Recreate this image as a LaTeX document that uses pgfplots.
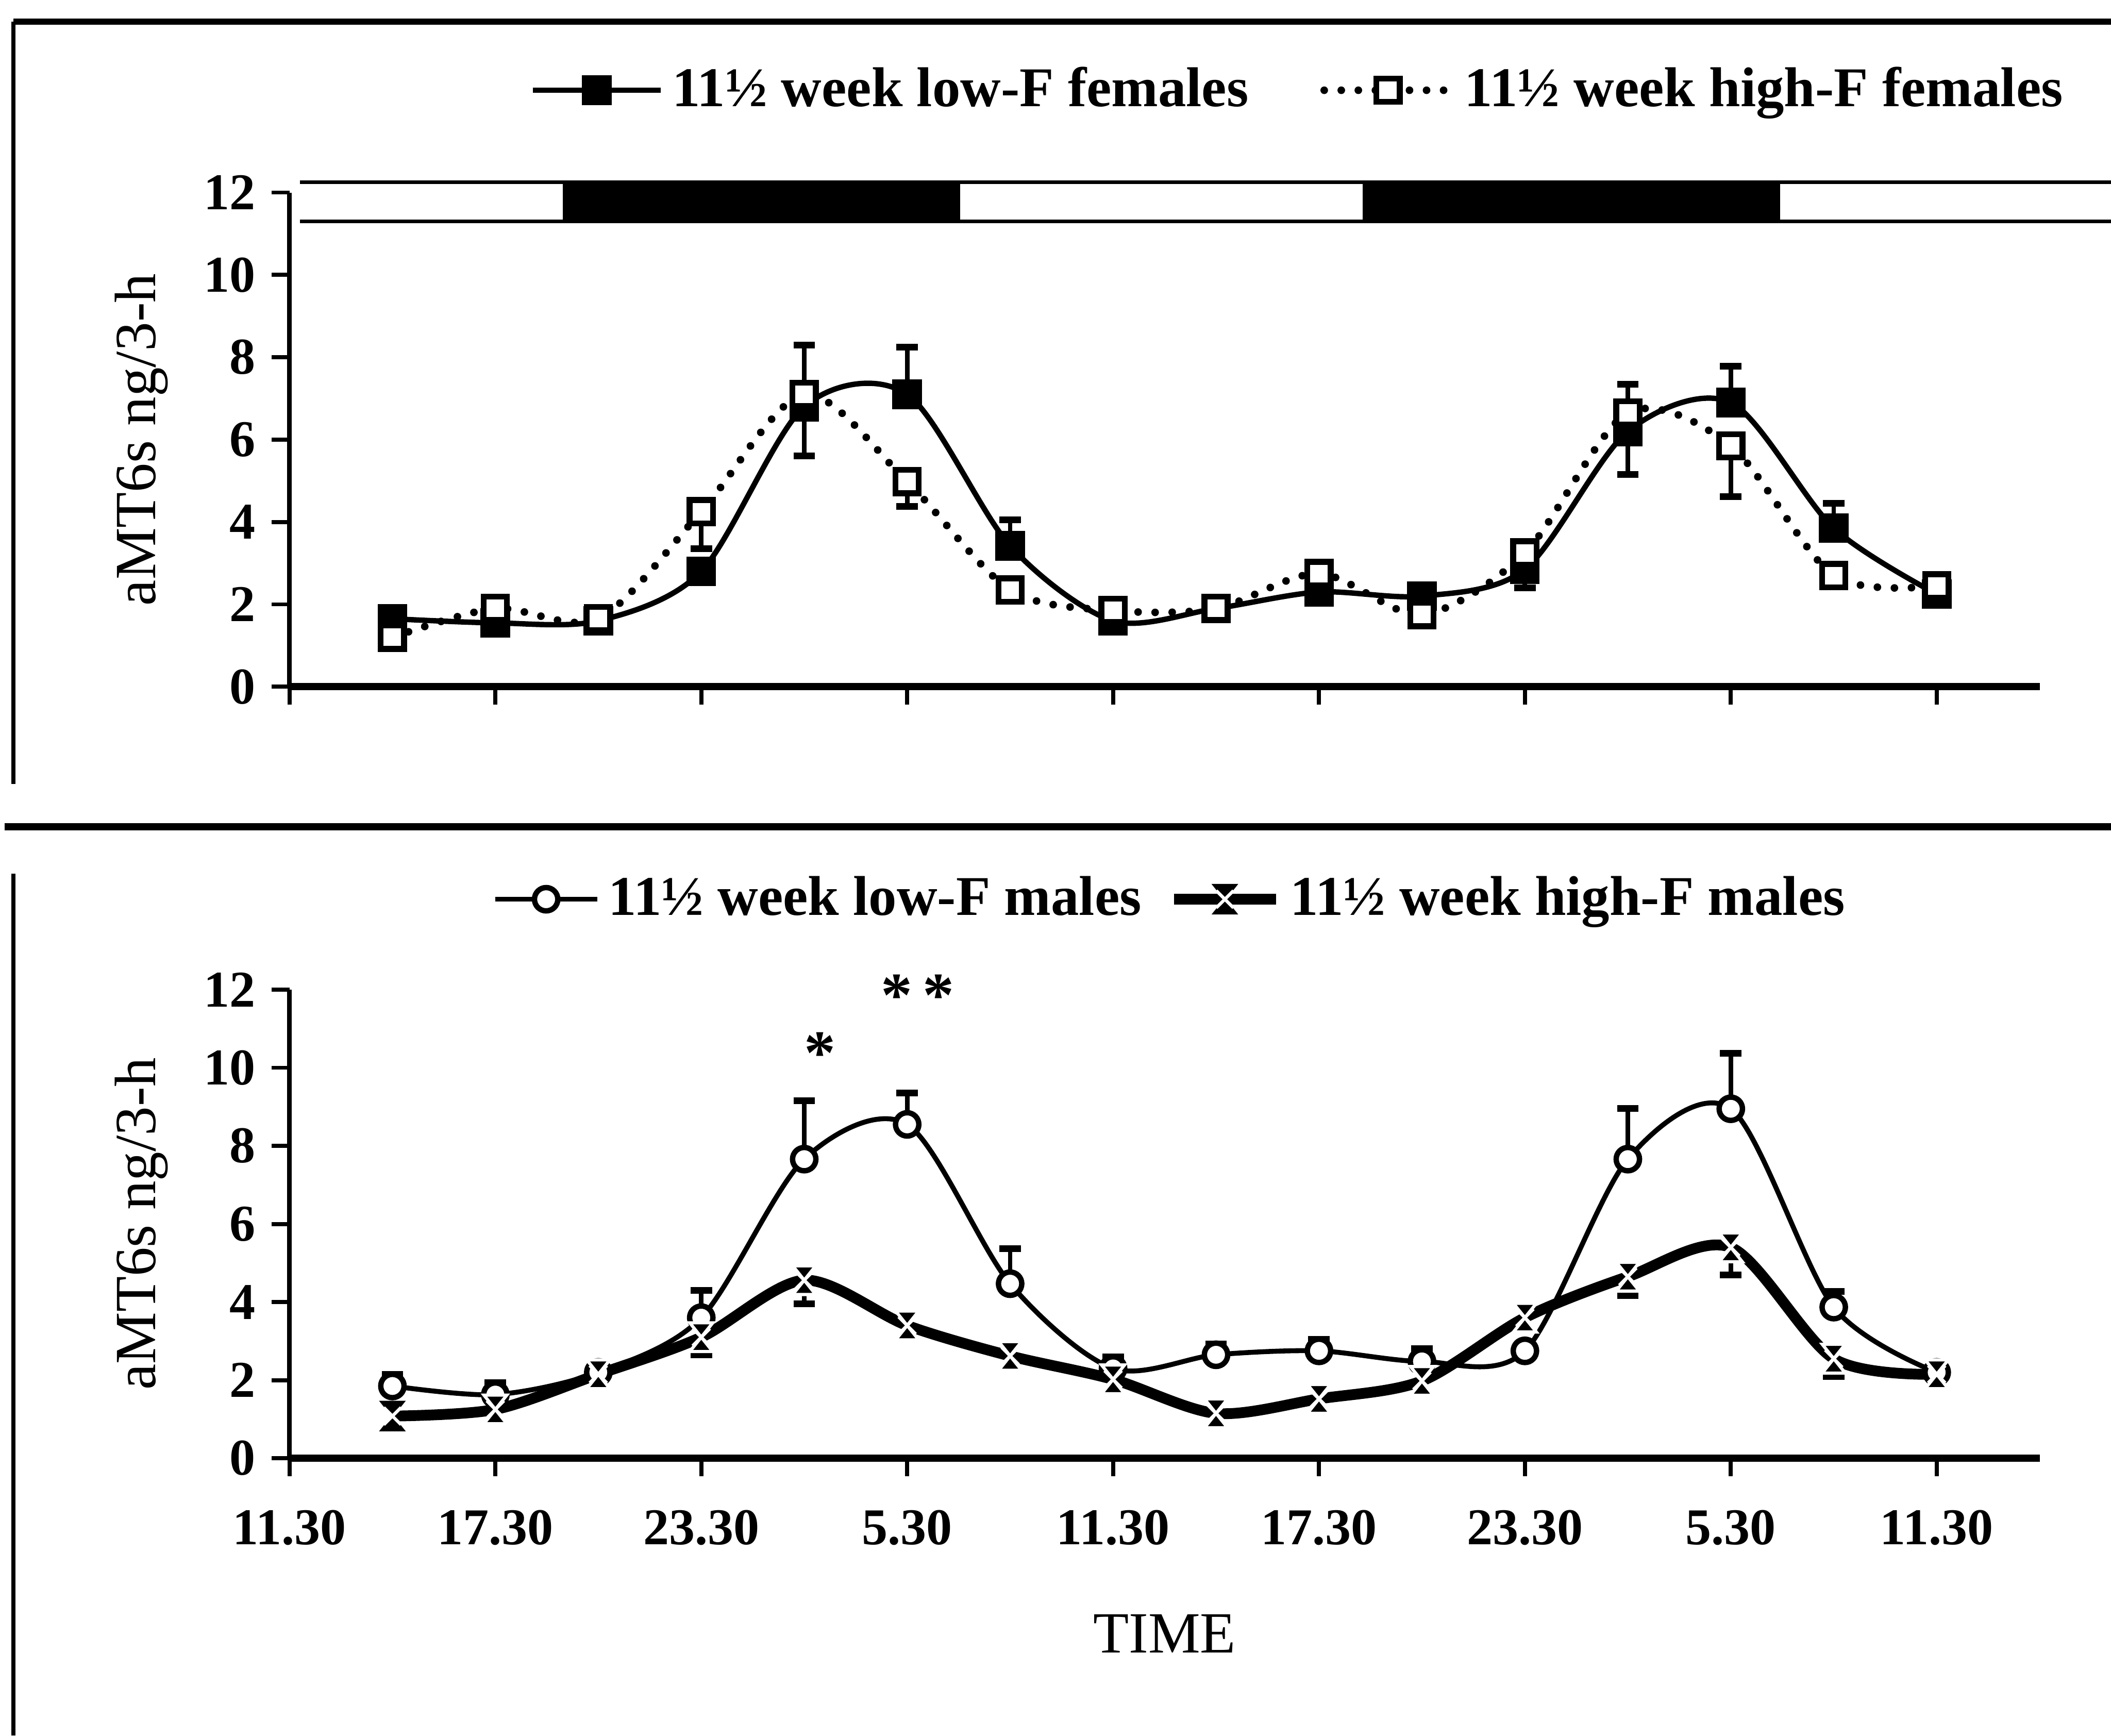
\documentclass[border=0pt]{standalone}
\usepackage{fontspec}
\setmainfont{Liberation Serif}
\usepackage{pgfplots}
\pgfplotsset{compat=1.18}
\pgfdeclareplotmark{hourglass}{%
  \pgfpathmoveto{\pgfqpoint{-0.8\pgfplotmarksize}{\pgfplotmarksize}}%
  \pgfpathlineto{\pgfqpoint{0.8\pgfplotmarksize}{\pgfplotmarksize}}%
  \pgfpathlineto{\pgfqpoint{-0.8\pgfplotmarksize}{-\pgfplotmarksize}}%
  \pgfpathlineto{\pgfqpoint{0.8\pgfplotmarksize}{-\pgfplotmarksize}}%
  \pgfpathclose
  \pgfusepathqfillstroke
  \pgfsetstrokecolor{white}%
  \pgfsetlinewidth{0.7pt}%
  \pgfpathmoveto{\pgfqpoint{-0.6\pgfplotmarksize}{0.6\pgfplotmarksize}}%
  \pgfpathlineto{\pgfqpoint{0.6\pgfplotmarksize}{-0.6\pgfplotmarksize}}%
  \pgfpathmoveto{\pgfqpoint{0.6\pgfplotmarksize}{0.6\pgfplotmarksize}}%
  \pgfpathlineto{\pgfqpoint{-0.6\pgfplotmarksize}{-0.6\pgfplotmarksize}}%
  \pgfusepathqstroke
}
\pgfplotsset{
  myaxis/.style={
    scale only axis, width=390pt,
    xmin=0, xmax=51, ymin=0, ymax=12,
    axis lines=left, axis line style={-},
    x axis line style={line width=1.6pt},
    y axis line style={line width=1pt},
    xtick={0,6,...,48}, ytick={0,2,...,12},
    tick align=outside, major tick length=4pt,
    tick style={black, line width=0.9pt},
    tick label style={font=\fontsize{11.5}{13}\selectfont\bfseries},
    /pgf/number format/assume math mode=true,
    clip=false,
    ylabel={aMT6s ng/3-h},
    every axis y label/.style={at={(axis description cs:-0.0846,0.5)}, rotate=90, anchor=center, font=\fontsize{13}{15}\selectfont},
  },
  errA/.style={only marks, mark=*, mark size=0.1pt, black, forget plot,
    error bars/.cd, y explicit, y dir=#1,
    error bar style={line width=1pt, solid},
    error mark options={rotate=90, mark size=2.4pt, line width=1.5pt, solid}},
}
\begin{document}
\begin{tikzpicture}
\useasboundingbox (0,0) rectangle (470.4pt,386.7pt);
% frame lines
\draw[line width=1.4pt] (3pt,381.9pt) -- (470.4pt,381.9pt);
\draw[line width=1pt] (3pt,381.9pt) -- (3pt,212pt);
\draw[line width=1.6pt] (1pt,202.5pt) -- (470.4pt,202.5pt);
\draw[line width=1pt] (3pt,192pt) -- (3pt,0pt);

% ---------------- top panel: females ----------------
\begin{axis}[myaxis, at={(64.5pt,233.7pt)}, anchor=south west, height=110.1pt,
  xticklabels={},
  legend style={draw=none, fill=none, font=\fontsize{12.5}{14}\selectfont\bfseries,
    legend columns=-1, at={(axis description cs:0.578,1.207)}, anchor=center,
    /tikz/every even column/.append style={column sep=14pt}},
  legend image code/.code={\draw[mark repeat=2,mark phase=2,#1] plot coordinates {(0cm,0cm) (0.5cm,0cm) (1cm,0cm)};},
]
% light/dark bar
\fill[black] (axis cs:7.96,11.3) rectangle (axis cs:19.54,12.25);
\fill[black] (axis cs:31.27,11.3) rectangle (axis cs:43.43,12.25);
\draw[line width=0.8pt] (axis cs:0.3,12.25) -- (axis cs:53.2,12.25);
\draw[line width=0.8pt] (axis cs:0.3,11.3) -- (axis cs:53.2,11.3);
% error bars
\addplot[errA=both] coordinates {(15,6.95) +- (0,1.35) (39,6.25) +- (0,1.1)};
\addplot[errA=plus] coordinates {(18,7.1) +- (0,1.15) (21,3.42) +- (0,0.63) (42,6.9) +- (0,0.88) (45,3.85) +- (0,0.6)};
\addplot[errA=minus] coordinates {(12,4.25) +- (0,0.9) (18,4.98) +- (0,0.6) (36,2.85) +- (0,0.45) (42,5.85) +- (0,1.23)};
% low-F females
\addplot[black, line width=1.2pt, smooth, mark=square*, mark size=2.7pt, mark options={solid, fill=black}]
coordinates {(3,1.65)(6,1.55)(9,1.6)(12,2.8)(15,6.8)(18,7.1)(21,3.42)(24,1.6)(27,1.9)(30,2.3)(33,2.2)(36,2.85)(39,6.2)(42,6.9)(45,3.85)(48,2.25)};
\addlegendentry{11½ week low-F females}
% high-F females
\addplot[black, line width=1.7pt, smooth, line cap=round, dash pattern=on 0pt off 3.8pt, mark=square*, mark size=2.6pt, mark options={solid, fill=white, line width=1.3pt}]
coordinates {(3,1.2)(6,1.9)(9,1.65)(12,4.25)(15,7.1)(18,4.98)(21,2.35)(24,1.85)(27,1.9)(30,2.75)(33,1.75)(36,3.25)(39,6.65)(42,5.85)(45,2.7)(48,2.45)};
\addlegendentry{11½ week high-F females}
\end{axis}

% ---------------- bottom panel: males ----------------
\begin{axis}[myaxis, at={(64.5pt,61.8pt)}, anchor=south west, height=104.4pt,
  xticklabels={11.30,17.30,23.30,5.30,11.30,17.30,23.30,5.30,11.30},
  xticklabel style={yshift=-4pt},
  xlabel={TIME},
  every axis x label/.style={at={(axis description cs:0.5,-0.374)}, anchor=center, font=\fontsize{13}{15}\selectfont},
  legend style={draw=none, fill=none, font=\fontsize{12.5}{14}\selectfont\bfseries,
    legend columns=-1, at={(axis description cs:0.505,1.193)}, anchor=center,
    /tikz/every even column/.append style={column sep=4pt}},
  legend image code/.code={\draw[mark repeat=2,mark phase=2,#1] plot coordinates {(0cm,0cm) (0.4cm,0cm) (0.8cm,0cm)};},
]
\addplot[errA=plus] coordinates {(3,1.85) +- (0,0.3) (6,1.63) +- (0,0.3) (12,3.6) +- (0,0.7) (15,7.66) +- (0,1.5) (18,8.55) +- (0,0.8) (21,4.47) +- (0,0.9) (24,2.3) +- (0,0.3) (27,2.65) +- (0,0.27) (30,2.75) +- (0,0.3) (33,2.48) +- (0,0.32) (39,7.66) +- (0,1.3) (42,8.95) +- (0,1.42) (45,3.87) +- (0,0.4)};
\addplot[errA=minus] coordinates {(12,3.1) +- (0,0.45) (15,4.56) +- (0,0.6) (39,4.65) +- (0,0.48) (42,5.4) +- (0,0.7) (45,2.55) +- (0,0.45)};
% low-F males
\addplot[black, line width=1.1pt, smooth, mark=*, mark size=2.6pt, mark options={solid, fill=white, line width=1.2pt}]
coordinates {(3,1.85)(6,1.63)(9,2.2)(12,3.6)(15,7.66)(18,8.55)(21,4.47)(24,2.3)(27,2.65)(30,2.75)(33,2.48)(36,2.75)(39,7.66)(42,8.95)(45,3.87)(48,2.2)};
\addlegendentry{11½ week low-F males}
% high-F males
\addplot[black, line width=2.4pt, smooth, mark=hourglass, mark size=3.2pt, mark options={solid, fill=black, draw=black, line width=0.4pt}]
coordinates {(3,1.08)(6,1.25)(9,2.15)(12,3.1)(15,4.56)(18,3.4)(21,2.62)(24,2.02)(27,1.15)(30,1.52)(33,1.98)(36,3.6)(39,4.65)(42,5.4)(45,2.55)(48,2.15)};
\addlegendentry{11½ week high-F males}
% significance marks
\node[font=\fontsize{14}{14}\selectfont\bfseries, yshift=-3pt] at (axis cs:15.46,10.72) {*};
\node[font=\fontsize{14}{14}\selectfont\bfseries, yshift=-3pt] at (axis cs:18.3,12.2) {*\,*};
\end{axis}
\end{tikzpicture}
\end{document}
